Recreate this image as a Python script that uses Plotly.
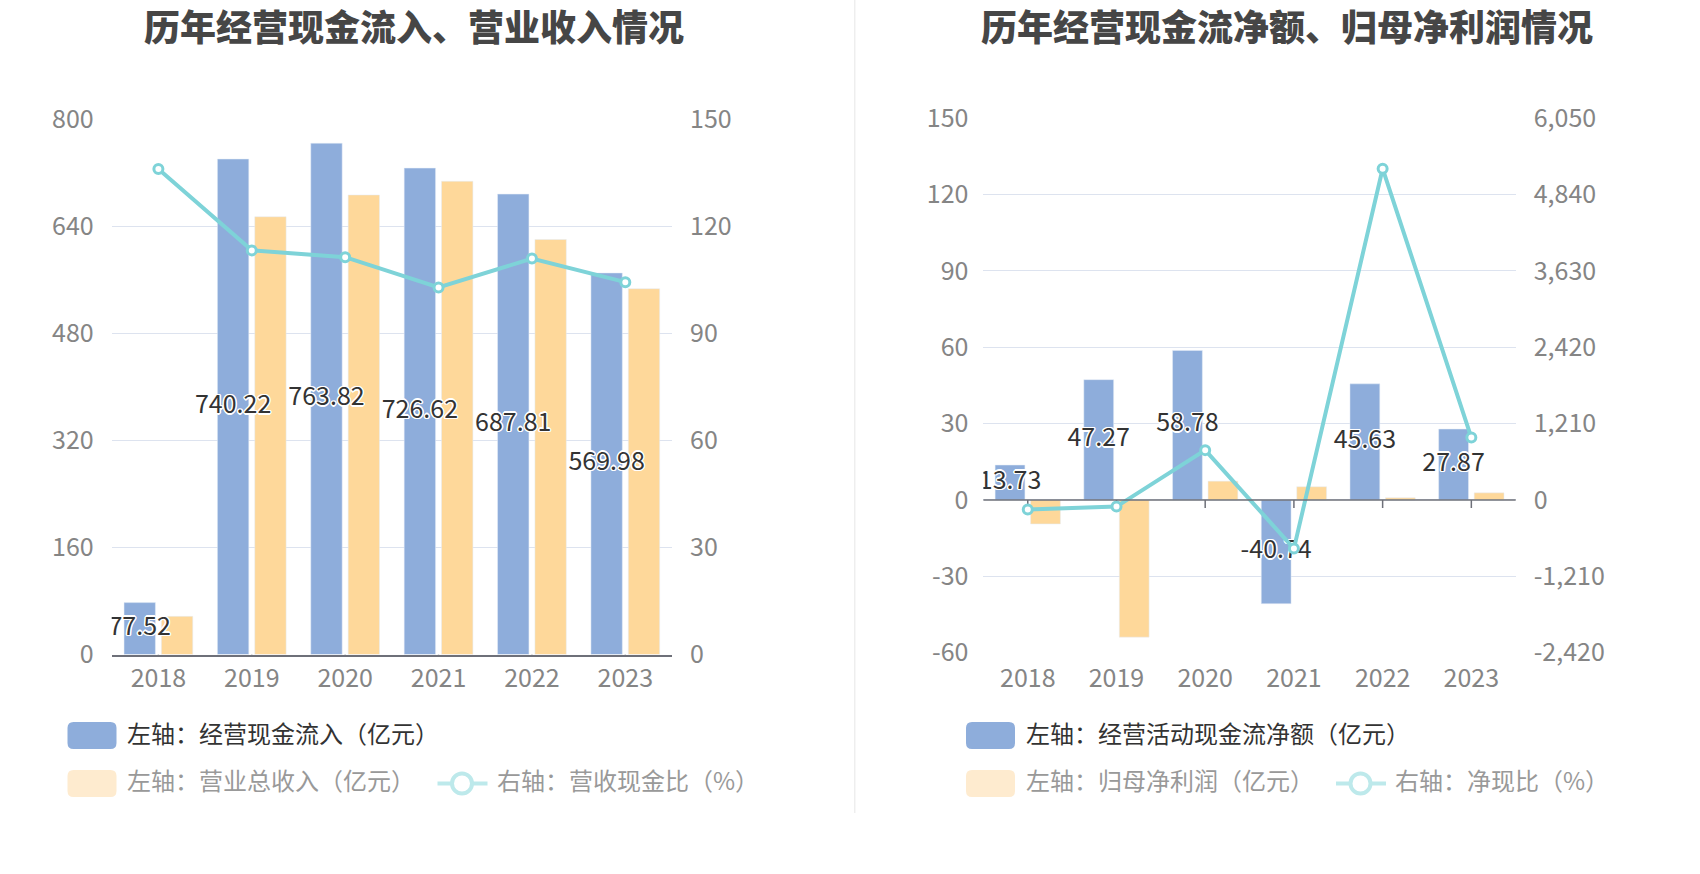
import plotly.graph_objects as go

W, H = 1700, 874

# ---------------- data ----------------
years = ["2018", "2019", "2020", "2021", "2022", "2023"]

# left chart
cash_inflow = [77.52, 740.22, 763.82, 726.62, 687.81, 569.98]      # 经营现金流入（亿元）
total_revenue = [57.0, 654.0, 686.5, 707.0, 620.0, 546.5]           # 营业总收入（亿元）
cash_rev_ratio = [136.0, 113.2, 111.3, 102.8, 110.9, 104.3]         # 营收现金比（%）

# right chart
op_cash_net = [13.73, 47.27, 58.78, -40.74, 45.63, 27.87]           # 经营活动现金流净额（亿元）
parent_profit = [-9.4, -53.9, 7.4, 5.2, 0.87, 2.8]                  # 归母净利润（亿元）
net_cash_ratio = [-150, -105, 790, -770, 5250, 990]                 # 净现比（%）

left_y_ticks = [0, 160, 320, 480, 640, 800]
left_y2_ticks = [0, 30, 60, 90, 120, 150]
right_y_ticks = [-60, -30, 0, 30, 60, 90, 120, 150]
right_y2_ticks = [-2420, -1210, 0, 1210, 2420, 3630, 4840, 6050]

titles = ["历年经营现金流入、营业收入情况", "历年经营现金流净额、归母净利润情况"]
legend_left = ["左轴：经营现金流入（亿元）", "左轴：营业总收入（亿元）", "右轴：营收现金比（%）"]
legend_right = ["左轴：经营活动现金流净额（亿元）", "左轴：归母净利润（亿元）", "右轴：净现比（%）"]

# ---------------- style ----------------
FONT = "Noto Sans CJK SC"
BLUE = "#8EADDB"
YELLOW = "#FED89A"
TEAL = "#7ED3D8"
PALE_YELLOW = "#FEEBCF"
PALE_TEAL = "#BDE9EB"
GRID = "#DDE3EF"
AXIS = "#6E7079"
TICK_COLOR = "#858585"
SHADOW = ("1px 1px 0 #fff, -1px -1px 0 #fff, 1px -1px 0 #fff, -1px 1px 0 #fff, "
          "0 1.5px 0 #fff, 0 -1.5px 0 #fff, 1.5px 0 0 #fff, -1.5px 0 0 #fff")

idx = list(range(len(years)))
label_x = [i - 0.2 for i in idx]

fig = go.Figure()

# ---- left chart ----
fig.add_trace(go.Bar(x=idx, y=cash_inflow, marker_color=BLUE, xaxis="x", yaxis="y",
                     name=legend_left[0], hoverinfo="skip"))
fig.add_trace(go.Bar(x=idx, y=total_revenue, marker_color=YELLOW, xaxis="x", yaxis="y",
                     name=legend_left[1], hoverinfo="skip"))
fig.add_trace(go.Scatter(x=label_x, y=[v / 2 for v in cash_inflow], mode="text",
                         text=[f"{v:.2f}" for v in cash_inflow],
                         textfont=dict(family=FONT, size=25, color="#333333", shadow=SHADOW),
                         xaxis="x", yaxis="y", hoverinfo="skip", showlegend=False))
fig.add_trace(go.Scatter(x=idx, y=cash_rev_ratio, mode="lines+markers", xaxis="x", yaxis="y2",
                         line=dict(color=TEAL, width=4),
                         marker=dict(symbol="circle", size=9, color="white",
                                     line=dict(color=TEAL, width=3)),
                         name=legend_left[2], hoverinfo="skip"))

# ---- right chart ----
fig.add_trace(go.Bar(x=idx, y=op_cash_net, marker_color=BLUE, xaxis="x2", yaxis="y3",
                     name=legend_right[0], hoverinfo="skip"))
fig.add_trace(go.Bar(x=idx, y=parent_profit, marker_color=YELLOW, xaxis="x2", yaxis="y3",
                     name=legend_right[1], hoverinfo="skip"))
fig.add_trace(go.Scatter(x=label_x, y=[v / 2 for v in op_cash_net], mode="text",
                         text=[f"{v:.2f}" for v in op_cash_net],
                         textfont=dict(family=FONT, size=25, color="#333333", shadow=SHADOW),
                         xaxis="x2", yaxis="y3", hoverinfo="skip", showlegend=False))
fig.add_trace(go.Scatter(x=idx, y=net_cash_ratio, mode="lines+markers", xaxis="x2", yaxis="y4",
                         line=dict(color=TEAL, width=4),
                         marker=dict(symbol="circle", size=9, color="white",
                                     line=dict(color=TEAL, width=3)),
                         name=legend_right[2], hoverinfo="skip"))

tickfont = dict(family=FONT, size=25, color=TICK_COLOR)

def fx(px):
    return px / W

def fy(py):
    return 1 - py / H

left_dom_x = [fx(111.7), fx(672)]
left_dom_y = [fy(654.5), fy(119)]
right_dom_x = [fx(983.4), fx(1515.7)]
right_dom_y = [fy(652.7), fy(118.2)]

xcommon = dict(range=[-0.5, 5.5], tickmode="array", tickvals=idx, ticktext=years,
               showgrid=False, zeroline=False, tickfont=tickfont, fixedrange=True,
               automargin=False, ticks="outside", tickcolor="rgba(0,0,0,0)")
ycommon = dict(tickmode="array", tickfont=tickfont, zeroline=False, fixedrange=True,
               ticks="outside", tickcolor="rgba(0,0,0,0)", automargin=False)

fig.update_layout(
    width=W, height=H,
    margin=dict(l=0, r=0, t=0, b=0, autoexpand=False),
    paper_bgcolor="white", plot_bgcolor="white",
    showlegend=False,
    barmode="group", bargap=0.2, bargroupgap=0.16,
    xaxis=dict(domain=left_dom_x, anchor="y", showline=True, linecolor=AXIS, linewidth=1.5,
               ticklen=1, **xcommon),
    yaxis=dict(domain=left_dom_y, anchor="x", range=[0, 800], tickvals=left_y_ticks,
               ticktext=[str(v) for v in left_y_ticks], ticklen=12,
               showgrid=True, gridcolor=GRID, gridwidth=1, **ycommon),
    yaxis2=dict(overlaying="y", side="right", anchor="x", range=[0, 150],
                tickvals=left_y2_ticks, ticktext=[str(v) for v in left_y2_ticks], ticklen=12,
                showgrid=False, **ycommon),
    xaxis2=dict(domain=right_dom_x, anchor="y3", showline=False, ticklen=3, **xcommon),
    yaxis3=dict(domain=right_dom_y, anchor="x2", range=[-60, 150], tickvals=right_y_ticks,
                ticktext=[str(v) for v in right_y_ticks], ticklen=9,
                showgrid=True, gridcolor=GRID, gridwidth=1, **ycommon),
    yaxis4=dict(overlaying="y3", side="right", anchor="x2", range=[-2420, 6050],
                tickvals=right_y2_ticks, ticktext=[f"{v:,}" for v in right_y2_ticks], ticklen=12,
                showgrid=False, **ycommon),
)

shapes = []
annotations = []

# zero axis line for right chart
shapes.append(dict(type="line", xref="x2 domain", yref="y3", x0=0, x1=1, y0=0, y1=0,
                   line=dict(color=AXIS, width=1.5), layer="above"))
# category tick marks (left chart at the bottom axis, right chart at the zero line)
for i in idx:
    shapes.append(dict(type="line", xref="x", yref="y", x0=i, x1=i,
                       ysizemode="pixel", yanchor=0, y0=0, y1=-8,
                       line=dict(color=AXIS, width=1.5), layer="above"))
    shapes.append(dict(type="line", xref="x2", yref="y3", x0=i, x1=i,
                       ysizemode="pixel", yanchor=0, y0=0, y1=-8,
                       line=dict(color=AXIS, width=1.5), layer="below"))

# divider
shapes.append(dict(type="line", xref="paper", yref="paper", x0=fx(854.7), x1=fx(854.7),
                   y0=fy(0), y1=fy(813), line=dict(color="#EEEEEE", width=1.5)))

# titles
for t, cx in zip(titles, [413.6, 1287]):
    annotations.append(dict(text=t, x=fx(cx), y=fy(25), xref="paper", yref="paper",
                            xanchor="center", yanchor="middle", showarrow=False,
                            font=dict(family=FONT, size=36, color="#464646", weight=900)))

def rrect(x0, y0, x1, y1, r, color):
    pts = (f"M {fx(x0 + r)},{fy(y0)} L {fx(x1 - r)},{fy(y0)} Q {fx(x1)},{fy(y0)} {fx(x1)},{fy(y0 + r)} "
           f"L {fx(x1)},{fy(y1 - r)} Q {fx(x1)},{fy(y1)} {fx(x1 - r)},{fy(y1)} "
           f"L {fx(x0 + r)},{fy(y1)} Q {fx(x0)},{fy(y1)} {fx(x0)},{fy(y1 - r)} "
           f"L {fx(x0)},{fy(y0 + r)} Q {fx(x0)},{fy(y0)} {fx(x0 + r)},{fy(y0)} Z")
    return dict(type="path", xref="paper", yref="paper", path=pts,
                fillcolor=color, line=dict(width=0))

def legend_block(icon_x0, text_x, line_x0, line_text_x, labels):
    row1, row2 = 735.5, 783.5
    shapes.append(rrect(icon_x0, row1 - 13.5, icon_x0 + 49, row1 + 13.5, 6, BLUE))
    shapes.append(rrect(icon_x0, row2 - 13.5, icon_x0 + 49, row2 + 13.5, 6, PALE_YELLOW))
    shapes.append(dict(type="line", xref="paper", yref="paper", x0=fx(line_x0), x1=fx(line_x0 + 50),
                       y0=fy(row2), y1=fy(row2), line=dict(color=PALE_TEAL, width=4)))
    cx = line_x0 + 24.5
    shapes.append(dict(type="circle", xref="paper", yref="paper", x0=fx(cx - 10), x1=fx(cx + 10),
                       y0=fy(row2 + 10), y1=fy(row2 - 10), fillcolor="white",
                       line=dict(color=PALE_TEAL, width=4)))
    items = [(labels[0], text_x, row1 - 3.5, "#333333"),
             (labels[1], text_x, row2 - 4, "#999999"),
             (labels[2], line_text_x, row2 - 4, "#999999")]
    for txt, x, y, col in items:
        annotations.append(dict(text=txt, x=fx(x), y=fy(y), xref="paper", yref="paper",
                                xanchor="left", yanchor="middle", showarrow=False,
                                font=dict(family=FONT, size=24, color=col)))

legend_block(67.5, 125, 437.5, 495, legend_left)
legend_block(966, 1024, 1336, 1393, legend_right)

fig.update_layout(shapes=shapes, annotations=annotations)

fig.write_html("out.html", config={"displayModeBar": False},
               post_script="document.body.style.margin='0';")
